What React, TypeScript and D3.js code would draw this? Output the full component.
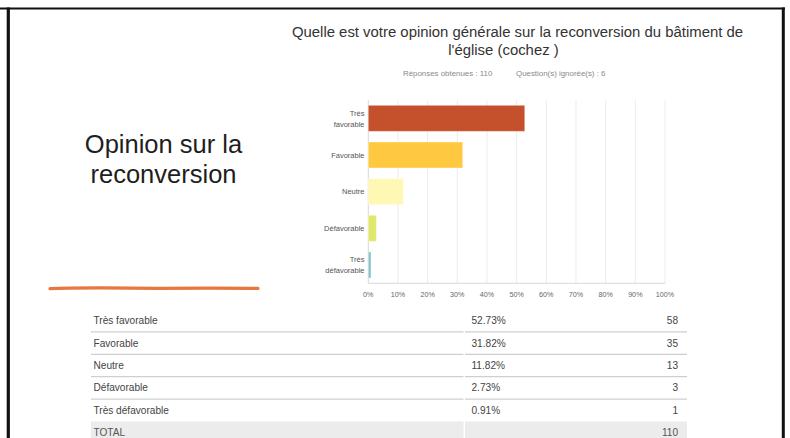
import React from "react";
import * as d3 from "d3";

const categories = ["Très favorable", "Favorable", "Neutre", "Défavorable", "Très défavorable"];
const axisLabels = [["Très", "favorable"], ["Favorable"], ["Neutre"], ["Défavorable"], ["Très", "défavorable"]];
const percents = [52.73, 31.82, 11.82, 2.73, 0.91];
const counts = [58, 35, 13, 3, 1];
const percentLabels = ["52.73%", "31.82%", "11.82%", "2.73%", "0.91%"];
const total = 110;
const ignored = 6;
const xTicks = [0, 10, 20, 30, 40, 50, 60, 70, 80, 90, 100];
const barColors = ["#c4512b", "#fec941", "#fff8b4", "#e0e76c", "#8ac6c9"];

const W = 790;
const H = 438;
const SANS = "'Liberation Sans', Arial, sans-serif";

export default function App() {
  const x = d3.scaleLinear().domain([0, 100]).range([368.3, 665]);
  const y = d3
    .scaleBand<string>()
    .domain(categories)
    .range([100, 283.3])
    .paddingInner(0.29)
    .paddingOuter(0.145);

  const rowY = d3.scaleBand<string>().domain([...categories, "TOTAL"]).range([309.5, 309.5 + 22.4 * 6]);
  const rowH = rowY.bandwidth();

  const lineGen = d3.line().curve(d3.curveBasis);
  const underline = lineGen([
    [50, 288.6],
    [100, 287.6],
    [160, 288.8],
    [210, 288.0],
    [258, 288.4],
  ]);

  return (
    <svg
      width={W}
      height={H}
      style={{ position: "absolute", left: 0, top: 0, background: "#fff" }}
      fontFamily={SANS}
    >
      <rect x={0} y={0} width={W} height={H} fill="#fff" />
      {/* frame */}
      <line x1={0} y1={8.5} x2={785} y2={8.5} stroke="#111" strokeWidth={2.2} />
      <line x1={8.3} y1={7.5} x2={8.3} y2={H} stroke="#111" strokeWidth={3.2} />
      <line x1={783.3} y1={7.5} x2={783.3} y2={H} stroke="#111" strokeWidth={3} />

      {/* left heading */}
      <text x={163.5} y={153.3} textAnchor="middle" fontSize={25.5} fill="#1e1e1e">
        Opinion sur la
      </text>
      <text x={163.5} y={183.3} textAnchor="middle" fontSize={25.5} fill="#1e1e1e">
        reconversion
      </text>
      <path d={underline ?? ""} fill="none" stroke="#e8773f" strokeWidth={3.2} strokeLinecap="round" />

      {/* title */}
      <text x={517.5} y={36.5} textAnchor="middle" fontSize={14.9} fill="#333">
        Quelle est votre opinion générale sur la reconversion du bâtiment de
      </text>
      <text x={503.5} y={55} textAnchor="middle" fontSize={14.9} fill="#333">
        l'église (cochez )
      </text>
      <text x={403} y={76} fontSize={7.9} fill="#8a8a8a">
        Réponses obtenues : {total}
      </text>
      <text x={516} y={76} fontSize={7.9} fill="#8a8a8a">
        Question(s) ignorée(s) : {ignored}
      </text>

      {/* grid */}
      {xTicks.map((t) => (
        <line key={"g" + t} x1={x(t)} x2={x(t)} y1={100} y2={283.3} stroke={t === 0 ? "#d8d8d8" : "#ececec"} strokeWidth={1} />
      ))}
      <line x1={x(0)} x2={x(100)} y1={283.3} y2={283.3} stroke="#d8d8d8" strokeWidth={1} />
      {xTicks.map((t) => (
        <text key={"t" + t} x={x(t)} y={296.5} textAnchor="middle" fontSize={7.2} fill="#666">
          {t}%
        </text>
      ))}

      {/* bars */}
      {categories.map((c, i) => (
        <rect
          key={c}
          x={x(0)}
          y={y(c)}
          width={x(percents[i]) - x(0)}
          height={y.bandwidth()}
          fill={barColors[i]}
          stroke="#ffffff"
          strokeOpacity={0.35}
          strokeWidth={1}
        />
      ))}
      {categories.map((c, i) => {
        const cy = (y(c) ?? 0) + y.bandwidth() / 2;
        const lines = axisLabels[i];
        return lines.map((l, j) => (
          <text
            key={c + j}
            x={364.5}
            y={cy + 2.7 + (j - (lines.length - 1) / 2) * 11}
            textAnchor="end"
            fontSize={7.5}
            fill="#555"
          >
            {l}
          </text>
        ));
      })}

      {/* table */}
      <rect x={91} y={rowY("TOTAL")} width={372.5} height={rowH} fill="#ececec" />
      <rect x={465} y={rowY("TOTAL")} width={222} height={rowH} fill="#ececec" />
      {categories.map((c, i) => {
        const top = rowY(c) ?? 0;
        return (
          <g key={"row" + c}>
            <text x={93.5} y={top + rowH / 2 + 3.5} fontSize={10.1} fill="#444">
              {c}
            </text>
            <text x={471.5} y={top + rowH / 2 + 3.5} fontSize={10.1} fill="#444">
              {percentLabels[i]}
            </text>
            <text x={678} y={top + rowH / 2 + 3.5} fontSize={10.1} fill="#444" textAnchor="end">
              {counts[i]}
            </text>
            {i < categories.length - 1 && (
              <>
                <line x1={91} x2={463.5} y1={top + rowH} y2={top + rowH} stroke="#cfcfcf" strokeWidth={1.3} />
                <line x1={465} x2={687} y1={top + rowH} y2={top + rowH} stroke="#cfcfcf" strokeWidth={1.3} />
              </>
            )}
          </g>
        );
      })}
      <text x={93.5} y={(rowY("TOTAL") ?? 0) + rowH / 2 + 3.5} fontSize={10.1} fill="#555">
        TOTAL
      </text>
      <text x={678} y={(rowY("TOTAL") ?? 0) + rowH / 2 + 3.5} fontSize={10.1} fill="#555" textAnchor="end">
        {total}
      </text>
    </svg>
  );
}
